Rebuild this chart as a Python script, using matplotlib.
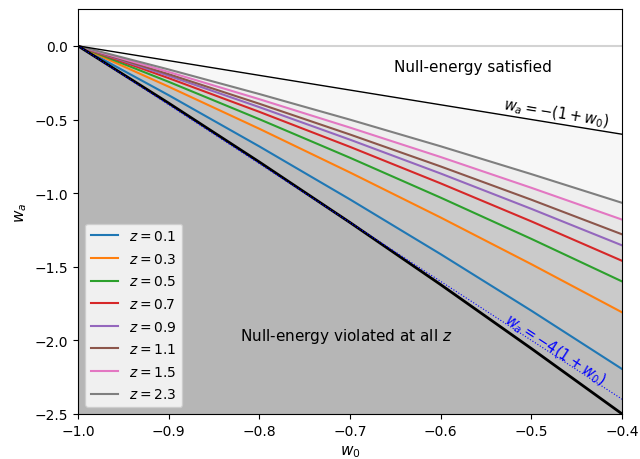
import matplotlib
matplotlib.use('Agg')
import matplotlib.pyplot as plt
import numpy as np

# w0 sample points along the x axis
w0 = [-1.0, -0.9, -0.8, -0.7, -0.6, -0.5, -0.4]

# bound lines
wa_ne = [0.0, -0.1, -0.2, -0.3, -0.4, -0.5, -0.6]          # wa = -(1+w0)
wa_4 = [0.0, -0.4, -0.8, -1.2, -1.6, -2.0, -2.4]           # wa = -4(1+w0)
wa_all = [0.0, -0.389, -0.789, -1.2, -1.622, -2.056, -2.5]  # violated at all z

# per-redshift boundaries
zs = ['0.1', '0.3', '0.5', '0.7', '0.9', '1.1', '1.5', '2.3']
wa_z01 = [0.0, -0.335, -0.683, -1.043, -1.415, -1.799, -2.195]
wa_z03 = [0.0, -0.277, -0.563, -0.860, -1.166, -1.483, -1.81]
wa_z05 = [0.0, -0.244, -0.498, -0.76, -1.031, -1.311, -1.60]
wa_z07 = [0.0, -0.219, -0.448, -0.686, -0.934, -1.192, -1.46]
wa_z09 = [0.0, -0.203, -0.416, -0.637, -0.867, -1.107, -1.355]
wa_z11 = [0.0, -0.192, -0.393, -0.602, -0.819, -1.045, -1.28]
wa_z15 = [0.0, -0.177, -0.362, -0.555, -0.755, -0.964, -1.18]
wa_z23 = [0.0, -0.160, -0.327, -0.501, -0.682, -0.871, -1.066]
curves = [wa_z01, wa_z03, wa_z05, wa_z07, wa_z09, wa_z11, wa_z15, wa_z23]

fig = plt.figure(figsize=(6.4, 4.6), dpi=100)
ax = fig.add_subplot(111)
fig.subplots_adjust(left=0.122, right=0.972, top=0.978, bottom=0.098)

ax.axhline(0, color='lightgray', lw=1.5, zorder=0)

# stacked translucent fills, one per boundary
for c in [wa_ne] + curves + [wa_all]:
    ax.fill_between(w0, c, -2.5, color='k', alpha=0.031, lw=0)

for z, c in zip(zs, curves):
    ax.plot(w0, c, lw=1.5, label='$z=%s$' % z)

ax.plot(w0, wa_ne, color='k', lw=1)
ax.plot(w0, wa_all, color='k', lw=2)
ax.plot(w0, wa_4, color='blue', ls=':', lw=0.8)

ax.text(-0.473, -0.452, '$w_a = -(1+w_0)$', rotation=-9.3, ha='center', va='center', fontsize=10.5)
ax.text(-0.474, -2.06, '$w_a = -4(1+w_0)$', rotation=-33, ha='center', va='center', fontsize=10.5, color='blue')
ax.text(-0.564, -0.14, 'Null-energy satisfied', ha='center', va='center', fontsize=11)
ax.text(-0.704, -1.97, 'Null-energy violated at all $z$', ha='center', va='center', fontsize=11)

ax.set_xlim(-1, -0.4)
ax.set_ylim(-2.5, 0.25)
ax.set_xlabel('$w_0$', fontsize=11)
ax.set_ylabel('$w_a$', fontsize=11)
ax.legend(loc='lower left', labelspacing=0.62)

fig.savefig('out.png', dpi=100)
